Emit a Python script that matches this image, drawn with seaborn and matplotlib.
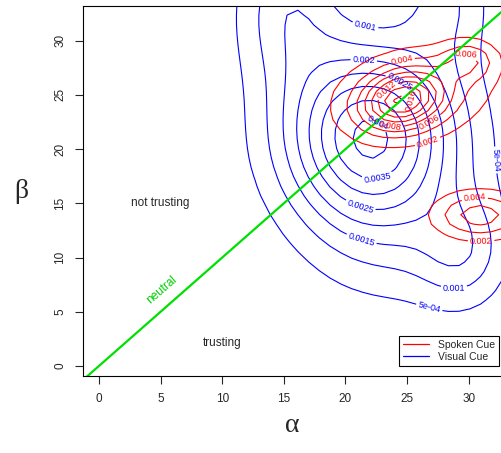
import numpy as np
import matplotlib
matplotlib.use('Agg')
import matplotlib.pyplot as plt
import seaborn as sns
from matplotlib.lines import Line2D

sns.set_style('ticks')
plt.rcParams['font.family'] = ['Liberation Sans', 'DejaVu Sans']

# density shape (gaussian bumps: centre, spread, peak height)
visual_alpha = [22.0, 24.0, 15.5, 28.0, 29.5]
visual_beta = [21.3, 12.0, 33.0, 34.0, 10.5]
visual_sd_alpha = [4.8, 5.0, 3.0, 2.5, 2.5]
visual_sd_beta = [5.6, 5.0, 5.0, 4.0, 3.5]
visual_peak = [0.00405, 0.0007, 0.0013, 0.0010, 0.0011]

spoken_alpha = [24.6, 25.5, 30.0, 30.9]
spoken_beta = [24.5, 25.0, 28.2, 13.9]
spoken_sd_alpha = [2.2, 4.5, 1.5, 2.6]
spoken_sd_beta = [1.8, 3.0, 1.2, 1.5]
spoken_rho = [0.2, 0.2, 0.0, 0.0]
spoken_peak = [0.012, 0.005, 0.0048, 0.0072]

visual_levels = [0.0005, 0.001, 0.0015, 0.002, 0.0025, 0.003, 0.0035, 0.004]
spoken_levels = [0.002, 0.004, 0.006, 0.008, 0.01, 0.012, 0.014, 0.016, 0.018]

visual_label_pos = [(21.7, 32), (21.5, 28.5), (22.8, 22.8), (22.5, 17.9), (21.3, 15),
                    (21.5, 12.3), (28.8, 7), (26.8, 5.4), (32.2, 19), (24.6, 26.5)]
spoken_label_pos = [(24.6, 28), (29.8, 28.3), (26.8, 20.3), (26.8, 22.5), (23.6, 22.1),
                    (23.3, 25.5), (25.7, 24.6), (30.5, 15.3), (31, 11.7)]

x_ticks = [0, 5, 10, 15, 20, 25, 30]
y_ticks = [0, 5, 10, 15, 20, 25, 30]


def bumps(A, B, ca, cb, sa, sb, peak, rho=None):
    z = np.zeros_like(A)
    for i in range(len(ca)):
        r = 0.0 if rho is None else rho[i]
        u = (A - ca[i]) / sa[i]
        v = (B - cb[i]) / sb[i]
        q = (u * u - 2 * r * u * v + v * v) / (1 - r * r)
        z += peak[i] * np.exp(-0.5 * q)
    return z


def fmt(v):
    if v < 0.001:
        return '%.0e' % v
    return '%g' % v


ga = np.linspace(-1.3, 32.7, 40)
gb = np.linspace(-0.93, 33.2, 40)
A, B = np.meshgrid(ga, gb)
zv = bumps(A, B, visual_alpha, visual_beta, visual_sd_alpha, visual_sd_beta, visual_peak)
zs = bumps(A, B, spoken_alpha, spoken_beta, spoken_sd_alpha, spoken_sd_beta, spoken_peak, spoken_rho)

fig = plt.figure(figsize=(5.02, 4.53), dpi=100)
ax = fig.add_axes([83 / 502, 77 / 453, 419 / 502, 370 / 453])

cv = ax.contour(A, B, zv, levels=visual_levels, colors='blue', linewidths=0.8)
cs = ax.contour(A, B, zs, levels=spoken_levels, colors='red', linewidths=0.8)
ax.clabel(cv, fmt=fmt, fontsize=6.5, manual=visual_label_pos, inline_spacing=2)
ax.clabel(cs, fmt=fmt, fontsize=6.5, manual=spoken_label_pos, inline_spacing=2)

diag = np.array([-1.3, 34.0])
sns.lineplot(x=diag, y=diag, color='#00e000', linewidth=1.6, ax=ax)

ax.text(5.1, 7.0, 'neutral', color='#00d000', fontsize=8.5, rotation=41,
        ha='center', va='center')
ax.text(5.0, 15.0, 'not trusting', fontsize=8.5, ha='center', va='center')
ax.text(10.0, 2.1, 'trusting', fontsize=8.5, ha='center', va='center')

ax.set_xlim(-1.3, 32.7)
ax.set_ylim(-0.93, 33.2)
ax.set_xticks(x_ticks)
ax.set_yticks(y_ticks)
ax.tick_params(direction='out', length=6, width=0.8, labelsize=8.5, pad=6)
for lab in ax.get_yticklabels():
    lab.set_rotation(90)
    lab.set_va('center')
ax.spines['right'].set_visible(False)
for s in ['left', 'bottom', 'top']:
    ax.spines[s].set_linewidth(0.8)
    ax.spines[s].set_color('black')

ax.set_xlabel('α', fontsize=20, family='Liberation Serif', labelpad=6)
ax.set_ylabel('β', fontsize=20, family='Liberation Serif', rotation=0,
              labelpad=24, va='center')

handles = [Line2D([0], [0], color='red', lw=0.9), Line2D([0], [0], color='blue', lw=0.9)]
leg = ax.legend(handles, ['Spoken Cue', 'Visual Cue'], loc='lower right',
                bbox_to_anchor=(0.993, 0.027), borderaxespad=0, fontsize=7.5,
                fancybox=False, framealpha=1, edgecolor='black', handlelength=2.5,
                labelspacing=0.2)
leg.get_frame().set_linewidth(0.8)

fig.savefig('out.png', dpi=100)
